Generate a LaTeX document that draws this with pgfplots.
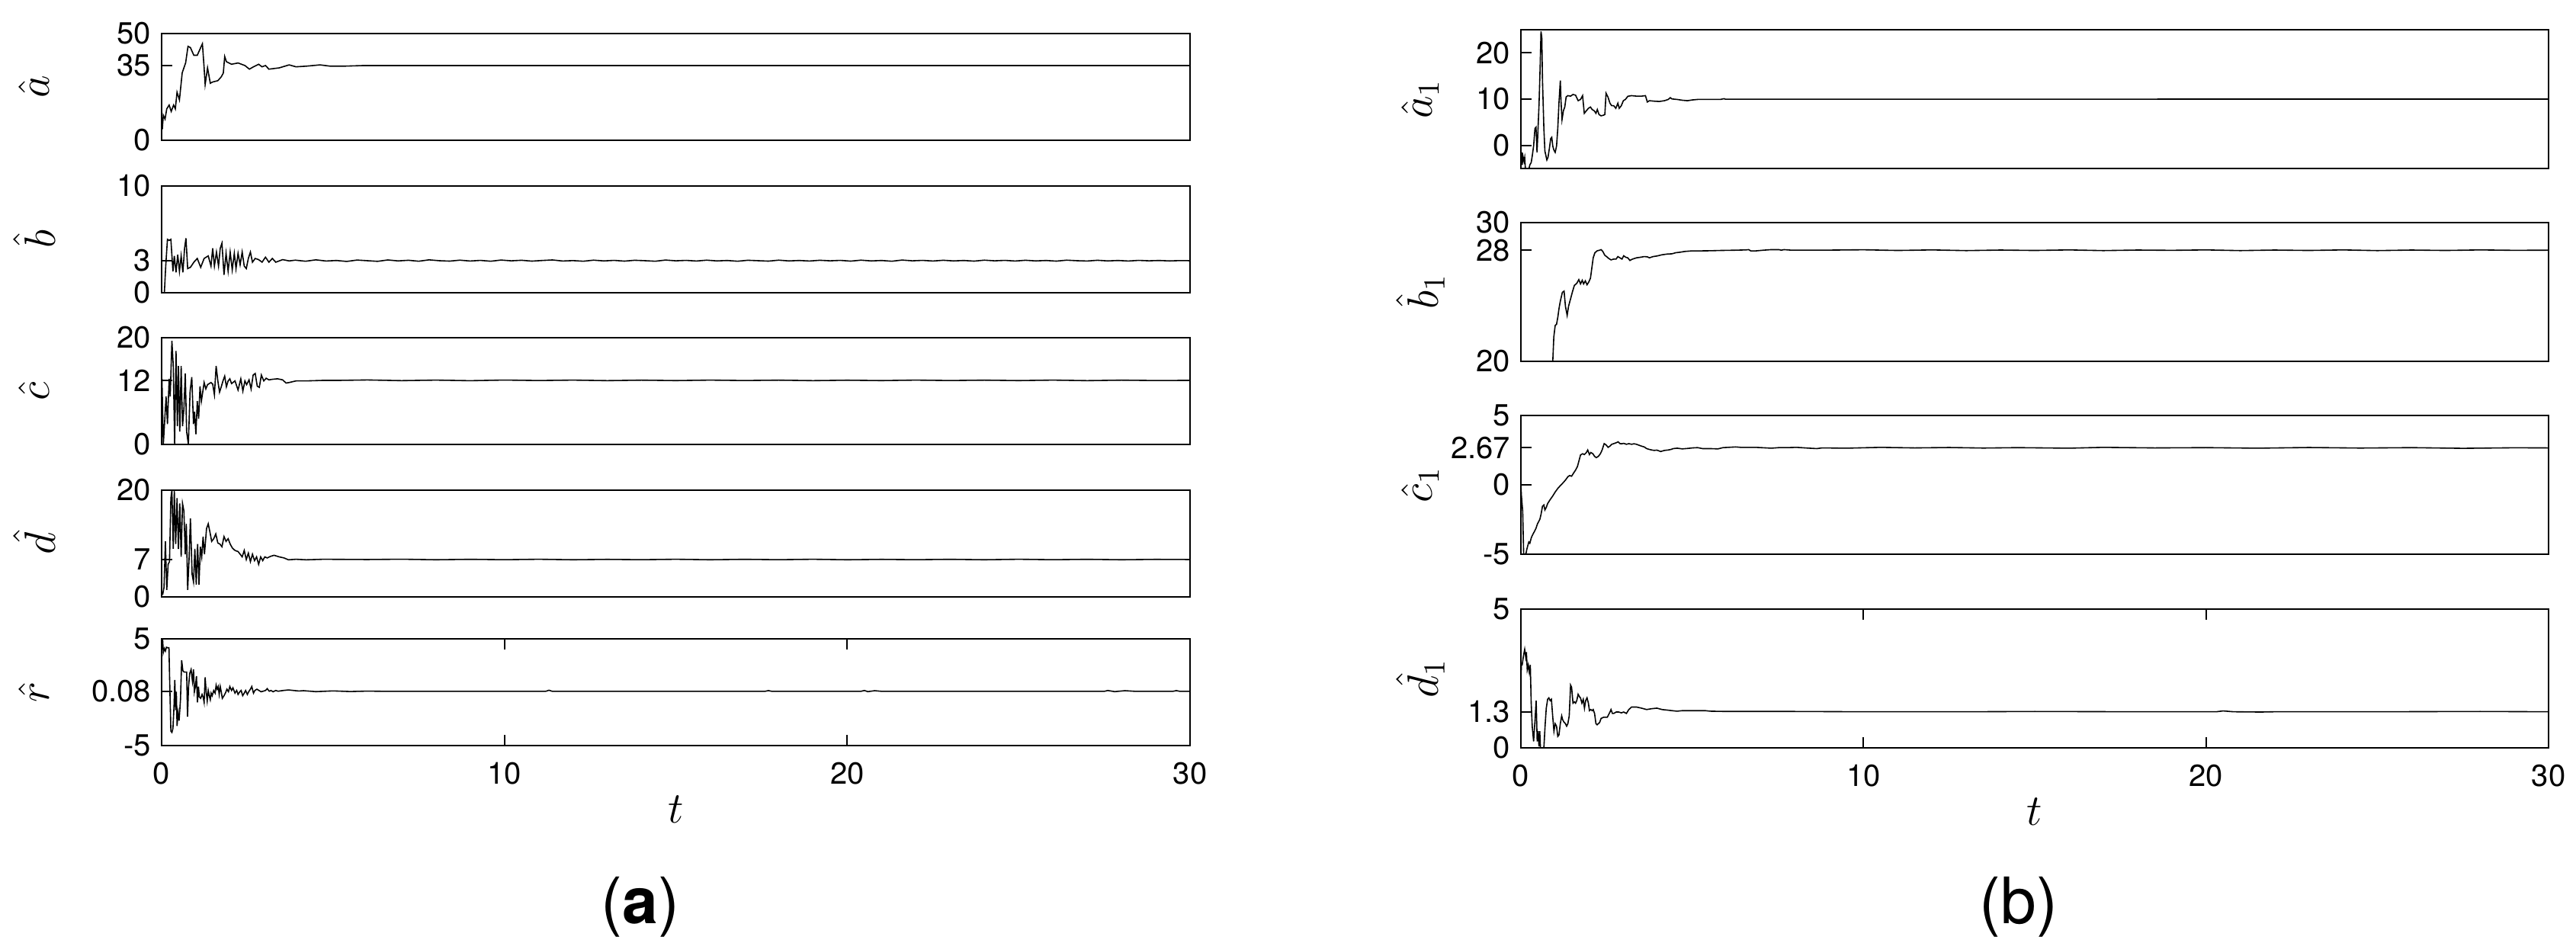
\documentclass[border=0pt]{standalone}
\usepackage{fontspec}
\setmainfont{TeX Gyre Heros}
\usepackage{pgfplots}
\pgfplotsset{compat=1.18}
\pgfplotsset{
  panel/.style={
    scale only axis, xmin=0, xmax=30,
    axis line style={line width=0.5pt},
    every tick/.style={black, line width=0.5pt},
    major tick length=3.5pt, tick align=inside,
    ytick pos=left, xtick pos=both, xtick=\empty,
    /pgf/number format/assume math mode=true,
    tick label style={font=\fontsize{10}{12}\selectfont},
    xticklabel style={yshift=-2pt},
    cycle list={{black, line width=0.4pt, mark=none}},
    xlabel style={at={(axis description cs:0.5,0)}, anchor=center, yshift=-21pt, font=\fontsize{14}{16}\selectfont},
  },
  lpanel/.style={panel, width=337.25pt, height=35pt,
    every axis y label/.style={at={(axis description cs:0,0.5)}, xshift=-41.75pt, anchor=center, rotate=90, font=\fontsize{14.5}{16}\selectfont}},
  rpanel/.style={panel, width=337pt, height=45.5pt,
    every axis y label/.style={at={(axis description cs:0,0.5)}, xshift=-33pt, anchor=center, rotate=90, font=\fontsize{14.5}{16}\selectfont}},
}
\begin{document}
\begin{tikzpicture}
\path[use as bounding box] (0,0) rectangle (844.75pt,309.25pt);

% ---------- (a) ----------
\begin{axis}[lpanel, at={(53pt,263.25pt)}, anchor=south west,
  ymin=0, ymax=50, ytick={0,35,50}, ylabel={$\hat{a}$}]
\addplot coordinates {(0.02,5.1)(0.05,11.7)(0.10,9.9)(0.15,14.7)(0.22,16.5)(0.28,13.5)(0.35,16.5)(0.40,14.7)(0.45,22.5)(0.52,18.9)(0.60,31.5)(0.65,33.9)(0.70,36.2)(0.77,44.0)(0.84,43.4)(0.94,39.8)(1.04,39.8)(1.14,43.4)(1.19,45.2)(1.24,33.9)(1.27,26.1)(1.34,33.9)(1.42,26.7)(1.49,27.3)(1.64,27.9)(1.74,29.7)(1.80,31.5)(1.84,39.2)(1.89,36.8)(2.04,35.6)(2.23,36.2)(2.43,35.0)(2.56,33.3)(2.68,34.4)(2.83,35.6)(2.93,34.4)(3.03,35.0)(3.13,33.3)(3.43,33.9)(3.72,35.3)(3.92,34.4)(4.22,34.7)(4.62,35.3)(4.92,34.7)(5.31,34.7)(5.91,35.0)(8,35.0)(30,35.0)};
\end{axis}

\begin{axis}[lpanel, at={(53pt,213.25pt)}, anchor=south west,
  ymin=0, ymax=10, ytick={0,3,10}, ylabel={$\hat{b}$}]
\addplot coordinates {(0.08,0)(0.12,2.5)(0.17,5.0)(0.22,4.9)(0.27,5.0)(0.33,2.0)(0.37,3.45)(0.42,1.9)(0.47,3.57)(0.52,2.0)(0.57,3.45)(0.62,1.9)(0.67,4.17)(0.71,5.1)(0.76,2.26)(0.84,2.38)(0.94,2.86)(1.04,3.21)(1.14,2.38)(1.24,3.21)(1.36,3.45)(1.44,2.5)(1.49,4.17)(1.54,2.5)(1.60,3.81)(1.66,2.5)(1.71,4.17)(1.76,4.64)(1.82,1.67)(1.88,3.69)(1.94,2.02)(2.0,3.81)(2.06,2.14)(2.12,3.69)(2.17,2.26)(2.23,3.69)(2.29,2.62)(2.35,3.81)(2.41,2.5)(2.47,2.26)(2.53,3.21)(2.59,3.81)(2.65,2.86)(2.73,3.21)(2.83,3.1)(2.93,2.86)(3.03,3.33)(3.13,2.86)(3.23,3.21)(3.33,2.86)(3.53,3.1)(3.72,2.98)
(3.9,3.05)(4.2,2.95)(4.5,3.08)(4.8,2.97)(5.1,3.02)(5.4,2.93)(5.7,3.06)(6.0,3.0)(6.3,2.94)(6.6,3.07)(6.9,2.98)(7.2,3.04)(7.5,2.95)(7.8,3.08)(8.1,3.0)(8.4,2.96)(8.7,3.05)(9.0,2.97)(9.3,3.03)(9.6,2.95)(9.9,3.06)(10.2,2.99)(10.5,3.04)(10.8,2.96)(11.1,3.02)(11.4,3.07)(11.7,2.97)(12.0,3.01)(12.3,2.95)(12.6,3.05)(12.9,2.98)(13.2,3.03)(13.5,2.96)(13.8,3.04)(14.1,3.0)(14.4,2.95)(14.7,3.06)(15.0,2.99)(15.3,3.03)(15.6,2.97)(15.9,3.05)(16.2,2.98)(16.5,3.02)(16.8,2.95)(17.1,3.04)(17.4,3.0)(17.7,2.96)(18.0,3.05)(18.3,2.98)(18.6,3.02)(18.9,2.97)(19.2,3.04)(19.5,2.99)(19.8,3.03)(20.1,2.96)(20.4,3.05)(20.7,2.98)(21.0,3.02)(21.3,2.95)(21.6,3.06)(21.9,2.99)(22.2,3.03)(22.5,2.97)(22.8,3.04)(23.1,2.98)(23.4,3.02)(23.7,2.96)(24.0,3.05)(24.3,2.99)(24.6,3.03)(24.9,2.97)(25.2,3.04)(25.5,2.98)(25.8,3.02)(26.1,2.96)(26.4,3.05)(26.7,3.0)(27.0,2.97)(27.3,3.04)(27.6,2.98)(27.9,3.02)(28.2,2.97)(28.5,3.03)(28.8,2.99)(29.1,3.02)(29.4,2.98)(29.7,3.01)(30,3.0)};
\end{axis}

\begin{axis}[lpanel, at={(53pt,163.5pt)}, anchor=south west,
  ymin=0, ymax=20, ytick={0,12,20}, ylabel={$\hat{c}$}]
\addplot coordinates {(0.01,12.3)(0.05,0)(0.13,9.0)(0.17,3.8)(0.22,12.3)(0.25,9.0)(0.30,19.4)(0.34,14.7)(0.38,0)(0.42,17.5)(0.46,3.4)(0.49,14.7)(0.53,2.4)(0.57,14.7)(0.61,3.4)(0.65,6.7)(0.69,13.3)(0.73,2.4)(0.78,0)(0.83,9.9)(0.88,12.6)(0.93,3.8)(0.96,6.1)(1.0,1.9)(1.04,8.1)(1.08,4.8)(1.12,10.9)(1.16,8.1)(1.24,11.6)(1.29,10.4)(1.34,11.2)(1.44,11.6)(1.49,11.3)(1.54,9.3)(1.59,14.7)(1.64,11.9)(1.69,9.8)(1.74,10.8)(1.79,11.9)(1.84,12.8)(1.89,10.8)(1.94,11.9)(1.99,12.3)(2.04,11.4)(2.14,11.9)(2.23,10.2)(2.31,12.3)(2.37,10.0)(2.43,11.9)(2.48,11.2)(2.55,12.1)(2.61,10.4)(2.67,13.0)(2.73,13.3)(2.79,10.9)(2.85,10.7)(2.91,13.0)(2.98,11.9)(3.05,12.4)(3.13,12.1)(3.23,12.2)(3.38,12.3)(3.53,12.1)(3.63,11.5)(3.72,11.6)(3.92,11.9)(4.22,11.9)(4.72,12.0)(5.21,12.0)(6,12.08)(7,11.95)(8,12.05)(9,11.94)(10,12.06)(11,11.97)(12,12.05)(13,11.95)(14,12.04)(15,11.96)(16,12.05)(17,11.97)(18,12.04)(19,11.95)(20,12.03)(21,11.96)(22,12.05)(23,11.97)(24,12.04)(25,11.96)(26,12.05)(27,11.95)(28,12.04)(29,11.97)(30,12.0)};
\end{axis}

\begin{axis}[lpanel, at={(53pt,113.5pt)}, anchor=south west,
  ymin=0, ymax=20, ytick={0,7,20}, ylabel={$\hat{d}$}]
\addplot coordinates {(0.03,0.38)(0.07,1.8)(0.11,10.4)(0.15,1.3)(0.19,6.1)(0.23,6.6)(0.27,18.5)(0.30,20)(0.34,9.0)(0.37,19.9)(0.41,9.9)(0.45,18.5)(0.49,9.0)(0.53,17.5)(0.57,7.5)(0.61,17.5)(0.65,16.1)(0.69,8.0)(0.72,13.7)(0.76,1.3)(0.80,7.0)(0.84,14.7)(0.89,4.2)(0.93,2.8)(0.97,9.0)(1.01,2.3)(1.05,9.9)(1.09,2.3)(1.13,9.4)(1.17,7.5)(1.21,11.3)(1.25,8.0)(1.31,12.8)(1.36,13.7)(1.42,11.8)(1.46,10.4)(1.52,10.9)(1.58,11.8)(1.64,10.1)(1.70,9.9)(1.76,9.4)(1.82,11.3)(1.88,10.4)(1.94,10.9)(2.0,9.9)(2.06,9.2)(2.14,8.7)(2.23,8.5)(2.29,8.0)(2.35,7.5)(2.41,8.7)(2.47,7.0)(2.53,8.2)(2.59,6.6)(2.65,8.0)(2.71,6.8)(2.77,7.5)(2.83,6.1)(2.89,7.5)(2.95,6.8)(3.01,7.5)(3.08,7.3)(3.18,7.6)(3.28,7.8)(3.43,7.5)(3.57,7.3)(3.70,6.95)(3.92,7.05)(4.22,6.95)(4.72,7.05)(6,7.0)(7,7.06)(8,6.96)(9,7.04)(10,6.97)(11,7.05)(12,6.96)(13,7.03)(14,6.97)(15,7.05)(16,6.96)(17,7.04)(18,6.97)(19,7.05)(20,6.96)(21,7.03)(22,6.97)(23,7.04)(24,6.96)(25,7.05)(26,6.97)(27,7.04)(28,6.96)(29,7.03)(30,7.0)};
\end{axis}

\begin{axis}[lpanel, at={(53pt,64.75pt)}, anchor=south west,
  ymin=-5, ymax=5, ytick={-5,0.08,5}, yticklabels={-5,0.08,5}, ylabel={$\hat{r}$},
  xtick={0,10,20,30}, xlabel={$t$}]
\addplot coordinates {(0.007,4.71)(0.03,4.95)(0.05,3.72)(0.08,4.09)(0.11,3.85)(0.14,4.21)(0.18,4.16)(0.215,4.16)(0.23,1.76)(0.25,-0.95)(0.27,-3.65)(0.30,-3.77)(0.33,-3.40)(0.36,-1.44)(0.385,1.14)(0.41,-1.68)(0.43,0.04)(0.45,-3.16)(0.48,-1.93)(0.51,-2.67)(0.55,-0.70)(0.585,2.99)(0.62,2.00)(0.66,1.88)(0.73,1.88)(0.756,-2.30)(0.786,0.53)(0.82,1.76)(0.86,2.13)(0.90,1.02)(0.93,2.13)(0.956,0.04)(0.986,0.53)(1.016,1.51)(1.045,-0.95)(1.075,0.53)(1.10,-0.45)(1.14,-0.58)(1.18,-0.21)(1.21,-0.45)(1.24,-0.95)(1.27,1.39)(1.30,0.04)(1.33,-0.82)(1.36,0.16)(1.39,-0.33)(1.42,-0.70)(1.445,-0.09)(1.475,-0.33)(1.52,0.16)(1.56,-0.09)(1.59,0.65)(1.62,0.28)(1.65,0.53)(1.68,-0.21)(1.71,0.53)(1.74,0.04)(1.77,-0.58)(1.82,-0.33)(1.86,-0.09)(1.905,0.28)(1.95,0.04)(1.99,0.53)(2.04,0.16)(2.08,0.41)(2.14,-0.09)(2.19,0.16)(2.23,-0.21)(2.28,0.04)(2.32,0.16)(2.365,-0.33)(2.41,-0.09)(2.45,0.16)(2.50,-0.21)(2.54,0.04)(2.59,0.28)(2.63,0.53)(2.68,-0.09)(2.72,0.16)(2.78,0.28)(2.84,0.16)(2.90,0.04)(2.96,0.09)(3.03,0.16)(3.08,0.33)(3.14,0.09)(3.19,0.16)(3.25,0.04)(3.33,0.16)(3.40,0.09)(3.55,0.16)(3.70,0.21)(3.85,0.16)(4.0,0.11)(4.14,0.14)(4.5,0.05)(5,0.12)(5.5,0.06)(6,0.1)(6.5,0.08)(11.2,0.08)(11.3,0.18)(11.4,0.08)(17.6,0.08)(17.7,0.15)(17.8,0.08)(20.4,0.08)(20.5,0.16)(20.6,0.05)(20.8,0.14)(21,0.08)(27.5,0.08)(27.6,0.16)(27.8,0.05)(28.1,0.14)(28.4,0.08)(29.5,0.08)(29.6,0.15)(29.7,0.08)(30,0.08)};
\end{axis}

% ---------- (b) ----------
\begin{axis}[rpanel, at={(498.75pt,254pt)}, anchor=south west,
  ymin=-5, ymax=25, ytick={0,10,20}, ylabel={$\hat{a}_1$}]
\addplot coordinates {(0,-2.89)(0.022,-1.53)(0.037,-4.25)(0.059,-2.34)(0.089,-3.43)(0.11,-2.62)(0.134,-5.5)(0.22,-5.5)(0.26,-4.25)(0.30,-3.71)(0.33,-2.34)(0.37,-0.16)(0.41,3.65)(0.44,3.92)(0.47,-1.53)(0.50,3.65)(0.53,9.10)(0.56,16.73)(0.586,24.63)(0.61,23.27)(0.63,14.0)(0.67,3.65)(0.70,-1.25)(0.757,-3.16)(0.79,-2.62)(0.83,-0.71)(0.87,1.47)(0.90,1.74)(0.93,-0.16)(0.96,-0.98)(1.0,-1.53)(1.04,-0.16)(1.076,3.65)(1.11,9.10)(1.15,14.0)(1.17,9.65)(1.20,5.56)(1.24,7.47)(1.28,8.28)(1.32,10.46)(1.37,10.74)(1.45,10.63)(1.52,11.0)(1.595,10.84)(1.67,9.65)(1.74,9.92)(1.80,10.74)(1.85,6.92)(1.91,7.47)(1.97,8.01)(2.03,8.28)(2.08,7.74)(2.14,7.47)(2.19,6.92)(2.23,7.74)(2.28,6.65)(2.34,6.38)(2.40,6.49)(2.45,6.65)(2.485,11.28)(2.54,10.46)(2.60,9.10)(2.65,8.56)(2.71,8.56)(2.77,8.01)(2.83,9.10)(2.87,8.01)(2.93,8.56)(2.99,9.65)(3.05,9.92)(3.12,10.6)(3.23,10.74)(3.375,10.63)(3.52,10.63)(3.635,10.74)(3.69,9.37)(3.75,9.65)(3.90,9.54)(4.04,9.48)(4.19,9.65)(4.30,9.92)(4.36,10.3)(4.41,10.03)(4.56,9.92)(4.71,9.75)(4.86,9.65)(5.01,9.82)(5.16,9.92)(5.45,9.92)(5.82,9.92)(5.93,10.08)(5.97,9.97)(30,10.0)};
\end{axis}

\begin{axis}[rpanel, at={(498.75pt,190.75pt)}, anchor=south west,
  ymin=20, ymax=30, ytick={20,28,30}, ylabel={$\hat{b}_1$}]
\addplot coordinates {(0.5,15)(0.93,20)(0.96,21.75)(1.0,22.58)(1.04,22.67)(1.08,23.22)(1.11,23.78)(1.15,24.33)(1.21,24.97)(1.26,25.06)(1.30,23.96)(1.35,23.31)(1.39,23.96)(1.45,24.51)(1.51,25.06)(1.56,25.47)(1.63,25.62)(1.69,25.89)(1.74,25.58)(1.79,25.84)(1.83,25.58)(1.88,25.80)(1.93,25.52)(1.98,25.71)(2.03,25.99)(2.06,26.54)(2.11,27.46)(2.16,27.83)(2.23,27.97)(2.30,28.01)(2.34,28.05)(2.39,27.92)(2.45,27.64)(2.50,27.55)(2.56,27.42)(2.63,27.31)(2.71,27.37)(2.78,27.37)(2.83,27.55)(2.89,27.46)(2.95,27.37)(3.0,27.61)(3.06,27.50)(3.12,27.46)(3.18,27.27)(3.26,27.37)(3.375,27.46)(3.49,27.50)(3.60,27.55)(3.69,27.53)(3.75,27.46)(3.86,27.55)(3.97,27.59)(4.12,27.68)(4.27,27.73)(4.41,27.75)(4.525,27.83)(4.64,27.86)(4.785,27.92)(5.0,27.96)(5.23,27.96)(5.53,27.97)(5.82,27.99)(6.27,28.01)(6.57,28.03)(6.65,28.05)(6.71,27.96)(6.86,27.96)(7.08,28.01)(7.31,28.05)(7.53,28.05)(7.60,28.01)(7.68,28.05)(7.90,28.01)(8.79,28.01)(10,28.04)(11,27.99)(12,28.03)(13,27.98)(14,28.02)(15,27.99)(16,28.03)(17,27.98)(18,28.02)(19,28.0)(20,28.03)(21,27.98)(22,28.02)(23,27.99)(24,28.03)(25,27.98)(26,28.02)(27,27.99)(28,28.03)(29,28.0)(30,28.01)};
\end{axis}

\begin{axis}[rpanel, at={(498.75pt,127.5pt)}, anchor=south west,
  ymin=-5, ymax=5, ytick={-5,0,2.67,5}, yticklabels={-5,0,2.67,5}, ylabel={$\hat{c}_1$}]
\addplot coordinates {(0.0,-0.06)(0.015,-0.80)(0.052,-1.91)(0.08,-5)(0.11,-5)(0.15,-4.94)(0.17,-4.67)(0.20,-4.39)(0.23,-4.12)(0.26,-4.21)(0.30,-3.84)(0.33,-3.66)(0.37,-3.47)(0.41,-3.29)(0.445,-3.10)(0.48,-2.83)(0.52,-2.64)(0.556,-2.46)(0.59,-2.09)(0.63,-1.54)(0.67,-1.45)(0.70,-1.81)(0.74,-1.63)(0.78,-1.35)(0.85,-1.08)(0.93,-0.80)(1.0,-0.52)(1.08,-0.25)(1.15,-0.06)(1.22,0.12)(1.30,0.34)(1.37,0.58)(1.42,0.67)(1.48,0.62)(1.54,0.86)(1.59,1.04)(1.65,1.32)(1.71,1.87)(1.74,2.15)(1.80,2.24)(1.85,2.18)(1.91,2.33)(1.95,2.51)(2.0,2.18)(2.04,2.33)(2.10,2.24)(2.15,2.05)(2.20,1.96)(2.26,2.05)(2.32,2.24)(2.37,2.51)(2.43,2.97)(2.485,2.88)(2.545,2.70)(2.60,2.79)(2.65,2.92)(2.71,2.97)(2.78,3.03)(2.84,3.10)(2.89,2.97)(2.945,2.96)(3.0,2.99)(3.08,2.92)(3.15,2.97)(3.23,2.92)(3.30,2.96)(3.375,2.92)(3.45,2.85)(3.52,2.79)(3.60,2.73)(3.67,2.61)(3.75,2.55)(3.82,2.51)(3.89,2.48)(3.97,2.50)(4.08,2.40)(4.19,2.48)(4.30,2.51)(4.38,2.55)(4.45,2.61)(4.56,2.64)(4.71,2.59)(4.86,2.62)(5.01,2.66)(5.16,2.68)(5.30,2.61)(5.53,2.61)(5.75,2.59)(5.90,2.68)(6.05,2.70)(6.27,2.73)(6.42,2.70)(6.57,2.70)(6.86,2.70)(7.16,2.66)(7.31,2.64)(7.53,2.68)(7.75,2.68)(8.05,2.70)(8.42,2.64)(8.64,2.61)(8.79,2.66)(9.5,2.64)(10.5,2.70)(11.5,2.66)(12.5,2.69)(13.5,2.65)(14.5,2.68)(16,2.64)(17,2.70)(18.5,2.66)(20,2.68)(21.5,2.64)(23,2.69)(24.5,2.65)(26,2.68)(27.5,2.63)(29,2.67)(30,2.66)};
\end{axis}

\begin{axis}[rpanel, at={(498.75pt,64pt)}, anchor=south west,
  ymin=0, ymax=5, ytick={0,1.3,5}, yticklabels={0,1.3,5}, ylabel={$\hat{d}_1$},
  xtick={0,10,20,30}, xlabel={$t$}]
\addplot coordinates {(0,0)(0.01,3.0)(0.037,2.99)(0.074,3.31)(0.11,3.55)(0.14,3.27)(0.16,3.45)(0.185,2.81)(0.215,2.99)(0.245,2.72)(0.274,2.99)(0.30,1.61)(0.33,0.78)(0.37,0.23)(0.41,0.97)(0.445,1.70)(0.475,0.23)(0.50,0.60)(0.527,0.05)(0.55,0.60)(0.57,0)(0.61,0)(0.67,0)(0.705,0.78)(0.74,1.43)(0.78,1.75)(0.816,1.80)(0.853,1.70)(0.89,1.75)(0.927,1.15)(0.964,0.60)(1.0,0.87)(1.04,0.78)(1.076,0.41)(1.11,0.46)(1.15,0.87)(1.19,1.15)(1.22,1.01)(1.26,0.92)(1.30,0.87)(1.335,0.78)(1.37,0.87)(1.41,1.15)(1.45,2.26)(1.48,2.18)(1.52,1.61)(1.56,1.66)(1.595,1.61)(1.63,1.70)(1.67,1.93)(1.71,1.84)(1.74,1.80)(1.78,1.61)(1.82,1.75)(1.855,1.43)(1.89,1.70)(1.93,1.80)(1.97,1.61)(2.0,1.34)(2.04,1.38)(2.08,1.34)(2.11,1.38)(2.15,1.24)(2.19,0.87)(2.225,0.83)(2.26,0.87)(2.30,0.92)(2.34,1.06)(2.41,1.10)(2.52,1.10)(2.60,1.29)(2.63,1.38)(2.67,1.24)(2.71,1.24)(2.78,1.29)(2.86,1.29)(2.93,1.26)(3.0,1.29)(3.08,1.24)(3.15,1.38)(3.23,1.47)(3.375,1.47)(3.52,1.43)(3.67,1.38)(3.82,1.41)(3.97,1.43)(4.12,1.38)(4.27,1.36)(4.41,1.34)(4.56,1.32)(4.71,1.34)(4.86,1.34)(5.08,1.34)(5.38,1.34)(5.53,1.32)(6,1.31)(8,1.31)(10,1.3)(13,1.3)(15,1.31)(18,1.3)(20.3,1.3)(20.5,1.33)(20.8,1.3)(21.6,1.29)(22,1.3)(25,1.3)(28,1.31)(30,1.3)};
\end{axis}

\node[font=\fontsize{21}{25}\selectfont] at (210pt,11.75pt) {(\textbf{a})};
\node[font=\fontsize{21}{25}\selectfont] at (662pt,11.75pt) {(b)};
\end{tikzpicture}
\end{document}
